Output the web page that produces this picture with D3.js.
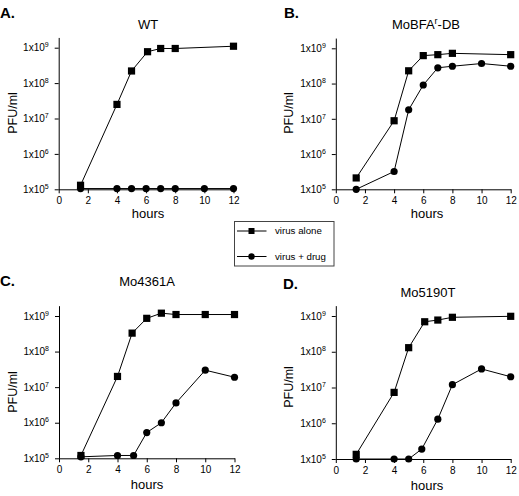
<!DOCTYPE html>
<html>
<head>
<meta charset="utf-8">
<script src="https://cdn.jsdelivr.net/npm/d3@7"></script>
<style>
  html, body { margin: 0; padding: 0; background: #fff; }
  svg { display: block; font-family: "Liberation Sans", Arial, Helvetica, sans-serif; }
</style>
</head>
<body>
<svg id="chart" width="519" height="496"></svg>
<script>
// ---------- data ----------
const xTicks = [0, 2, 4, 6, 8, 10, 12];
const yTicks = [1e5, 1e6, 1e7, 1e8, 1e9];
const seriesNames = ["virus alone", "virus + drug"];

// Panel A: WT
const wtAloneX = [1.5, 4, 5, 6.1, 7, 8, 12];
const wtAloneY = [1.3e5, 2.5e7, 2.2e8, 7.7e8, 9.5e8, 9.5e8, 1.1e9];
const wtDrugX  = [1.5, 4, 5, 6, 7, 8, 10, 12];
const wtDrugY  = [1.05e5, 1.05e5, 1.05e5, 1.05e5, 1.05e5, 1.05e5, 1.05e5, 1.05e5];

// Panel B: MoBFAr-DB
const dbAloneX = [1.4, 4, 5, 6, 7, 8, 12];
const dbAloneY = [2.1e5, 8.8e6, 2.3e8, 6.2e8, 6.6e8, 7.2e8, 6.6e8];
const dbDrugX  = [1.4, 4, 5, 6, 7, 8, 10, 12];
const dbDrugY  = [1e5, 3.2e5, 1.8e7, 9.1e7, 2.8e8, 3.1e8, 3.7e8, 3.1e8];

// Panel C: Mo4361A
const m43AloneX = [1.5, 4, 5, 6, 7, 8, 10, 12];
const m43AloneY = [1.2e5, 2e7, 3.3e8, 8.6e8, 1.2e9, 1.1e9, 1.1e9, 1.1e9];
const m43DrugX  = [1.5, 4, 5.1, 6, 7, 8, 10, 12];
const m43DrugY  = [1.1e5, 1.2e5, 1.2e5, 5.3e5, 1e6, 3.6e6, 3e7, 1.9e7];

// Panel D: Mo5190T
const m51AloneX = [1.4, 4, 5, 6.1, 7, 8, 12];
const m51AloneY = [1.35e5, 7.3e6, 1.3e8, 6.9e8, 7.7e8, 9.2e8, 9.8e8];
const m51DrugX  = [1.4, 4, 5, 5.9, 7, 8, 10, 12];
const m51DrugY  = [1e5, 1e5, 1e5, 1.9e5, 1.3e6, 1.2e7, 3.3e7, 2e7];

// ---------- layout ----------
const panels = [
  { letter: "A.", title: ["WT"], aloneX: wtAloneX, aloneY: wtAloneY, drugX: wtDrugX, drugY: wtDrugY,
    x0: 58.7, x12: 233.5, yBot: 189.3, y9: 47.7,
    lx: 0, ly: 18, tx: 148, ty: 29, px: 13, py: 113, hx: 148, hy: 218 },
  { letter: "B.", title: ["MoBFA", "r", "-DB"], aloneX: dbAloneX, aloneY: dbAloneY, drugX: dbDrugX, drugY: dbDrugY,
    x0: 335.8, x12: 510.7, yBot: 189.3, y9: 48.3,
    lx: 284, ly: 18, tx: 426, ty: 29, px: 289, py: 113, hx: 427, hy: 218 },
  { letter: "C.", title: ["Mo4361A"], aloneX: m43AloneX, aloneY: m43AloneY, drugX: m43DrugX, drugY: m43DrugY,
    x0: 59, x12: 234.5, yBot: 458.3, y9: 316,
    lx: 0, ly: 286, tx: 147, ty: 286, px: 13, py: 392, hx: 147, hy: 489 },
  { letter: "D.", title: ["Mo5190T"], aloneX: m51AloneX, aloneY: m51AloneY, drugX: m51DrugX, drugY: m51DrugY,
    x0: 335.8, x12: 510.7, yBot: 459, y9: 316,
    lx: 283, ly: 289, tx: 428, ty: 297, px: 289, py: 387, hx: 427, hy: 490 }
];

const svg = d3.select("#chart");

function expTick(sel) {
  sel.each(function(d) {
    const t = d3.select(this);
    const e = Math.round(Math.log10(d));
    t.text("");
    t.append("tspan").text("1x10");
    t.append("tspan").attr("font-size", "7px").attr("dy", "-4").text(e);
  });
}

panels.forEach(p => {
  const dec = (p.yBot - p.y9) / 4;
  const x = d3.scaleLinear().domain([0, 12]).range([p.x0, p.x12]);
  const y = d3.scaleLog().domain([1e5, Math.pow(10, 9.29)]).range([p.yBot, p.yBot - 4.29 * dec]);

  const g = svg.append("g");

  // axes
  const xa = g.append("g").attr("transform", `translate(0,${p.yBot})`)
    .call(d3.axisBottom(x).tickValues(xTicks).tickSize(4).tickSizeOuter(0).tickPadding(4).tickFormat(d3.format("d")));
  xa.selectAll("text").attr("font-size", "10px").attr("font-family", null).attr("fill", "#000");
  const ya = g.append("g").attr("transform", `translate(${p.x0},0)`)
    .call(d3.axisLeft(y).tickValues(yTicks).tickSize(4).tickSizeOuter(0).tickPadding(6));
  ya.selectAll("text").attr("font-size", "10px").attr("font-family", null).attr("fill", "#000").call(expTick);
  g.selectAll(".domain, .tick line").attr("stroke", "#000").attr("stroke-width", 1);

  // labels
  g.append("text").attr("x", p.lx).attr("y", p.ly).attr("font-size", "15px").attr("font-weight", "bold").text(p.letter);
  const tt = g.append("text").attr("x", p.tx).attr("y", p.ty).attr("font-size", "13px").attr("text-anchor", "middle");
  if (p.title.length === 1) tt.text(p.title[0]);
  else {
    tt.append("tspan").text(p.title[0]);
    tt.append("tspan").attr("font-size", "9px").attr("dy", "-5").text(p.title[1]);
    tt.append("tspan").attr("dy", "5").text(p.title[2]);
  }
  g.append("text").attr("transform", `translate(${p.px},${p.py}) rotate(-90)`).attr("text-anchor", "middle")
    .attr("dy", "0.35em").attr("font-size", "12.5px").text("PFU/ml");
  g.append("text").attr("x", p.hx).attr("y", p.hy).attr("text-anchor", "middle").attr("font-size", "13px").text("hours");

  const line = d3.line().x(d => x(d[0])).y(d => y(d[1]));
  const drug = p.drugX.map((v, i) => [v, p.drugY[i]]);
  const alone = p.aloneX.map((v, i) => [v, p.aloneY[i]]);

  g.append("path").datum(drug).attr("d", line).attr("fill", "none").attr("stroke", "#000").attr("stroke-width", 1);
  g.append("path").datum(alone).attr("d", line).attr("fill", "none").attr("stroke", "#000").attr("stroke-width", 1);
  g.selectAll(".c").data(drug).join("circle").attr("cx", d => x(d[0])).attr("cy", d => y(d[1])).attr("r", 3.6).attr("fill", "#000");
  g.selectAll(".s").data(alone).join("rect").attr("x", d => x(d[0]) - 3.6).attr("y", d => y(d[1]) - 3.6)
    .attr("width", 7.2).attr("height", 7.2).attr("fill", "#000");
});

// legend
const lg = svg.append("g").attr("transform", "translate(234.5,221.5)");
lg.append("rect").attr("width", 99.5).attr("height", 44.5).attr("fill", "#fff").attr("stroke", "#444").attr("stroke-width", 1);
seriesNames.forEach((name, i) => {
  const yy = 9.5 + i * 25.5;
  lg.append("line").attr("x1", 2.5).attr("x2", 32).attr("y1", yy).attr("y2", yy).attr("stroke", "#000").attr("stroke-width", 1);
  if (i === 0) lg.append("rect").attr("x", 17 - 3).attr("y", yy - 3).attr("width", 6).attr("height", 6).attr("fill", "#000");
  else lg.append("circle").attr("cx", 17).attr("cy", yy).attr("r", 3.2).attr("fill", "#000");
  lg.append("text").attr("x", 40.5).attr("y", yy).attr("dy", "0.35em").attr("font-size", "9.7px").text(name);
});
</script>
</body>
</html>
